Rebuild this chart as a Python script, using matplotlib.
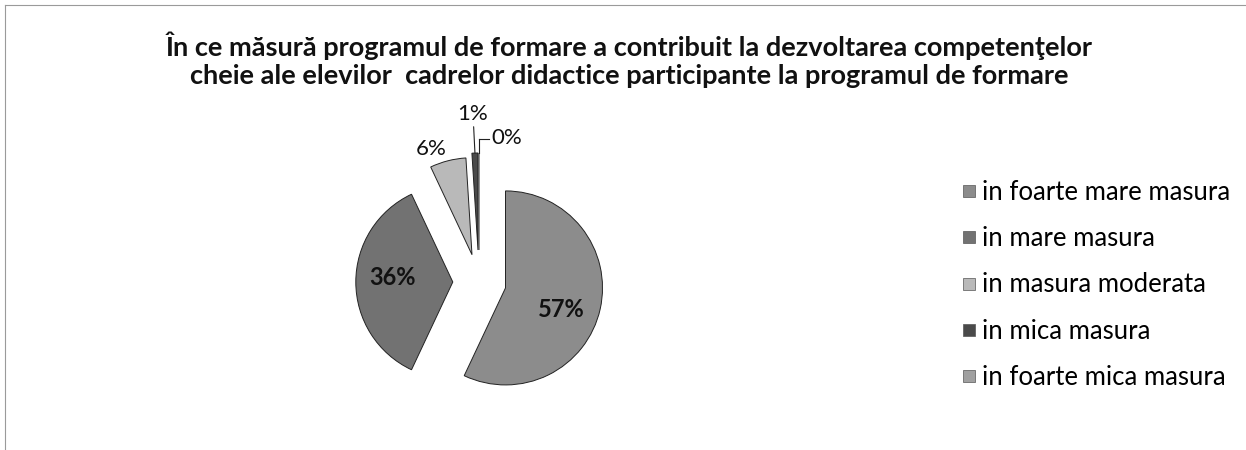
import math

import matplotlib

matplotlib.use("Agg")
import matplotlib.pyplot as plt
from matplotlib.lines import Line2D

TITLE = (
    "În ce măsură programul de formare a contribuit la dezvoltarea competenţelor\n"
    "cheie ale elevilor  cadrelor didactice participante la programul de formare"
)
CATEGORIES = [
    "in foarte mare masura",
    "in mare masura",
    "in masura moderata",
    "in mica masura",
    "in foarte mica masura",
]
VALUES = [57, 36, 6, 1, 0]

COLORS = ["#8c8c8c", "#727272", "#b9b9b9", "#4a4a4a", "#a0a0a0"]
EXPLODE = [0.28, 0.27, 0.29, 0.33, 0.33]

W, H = 1246, 450
fig = plt.figure(figsize=(W / 100, H / 100), dpi=100)

# pie axes: 1 data unit = 97 px, centre at (479, 282) px
R = 97
cx, cy = 479, 282
left, right = cx - 2 * R, cx + 2 * R
top, bottom = 88, 450
ax = fig.add_axes([left / W, (H - bottom) / H, (right - left) / W, (bottom - top) / H])

wedges, _ = ax.pie(
    VALUES,
    explode=EXPLODE,
    startangle=90,
    counterclock=False,
    colors=COLORS,
    wedgeprops=dict(edgecolor="#222222", linewidth=0.7),
)
ax.set_xlim(-2, 2)
ax.set_ylim(-(bottom - cy) / R, (cy - top) / R)
ax.axis("off")

font = "Lato"
for i, (w, v) in enumerate(zip(wedges, VALUES)):
    th = math.radians((w.theta1 + w.theta2) / 2)
    x0, y0 = w.center
    if i < 2:
        d = 0.62
        a = th - 0.15 if i == 0 else th - 0.08
        ax.text(x0 + d * math.cos(a), y0 + d * math.sin(a), f"{v}%", ha="center",
                va="center", fontsize=17, fontweight="bold", color="#111111", family=font)
    elif i == 2:
        d = 1.17
        ax.text(x0 + d * math.cos(th + 0.12), y0 + d * math.sin(th + 0.12), f"{v}%",
                ha="center", va="center", fontsize=16, color="#111111", family=font)
    elif i == 3:
        tip = (x0 + math.cos(th), y0 + math.sin(th))
        ax.annotate(f"{v}%", xy=tip, xytext=(tip[0] - 0.02, tip[1] + 0.3), ha="center",
                    va="bottom", fontsize=16, color="#111111", family=font,
                    arrowprops=dict(arrowstyle="-", color="#222222", lw=0.8, shrinkA=0, shrinkB=0))
    else:
        tip = (x0 + math.cos(th), y0 + math.sin(th))
        ax.plot([tip[0], tip[0]], [tip[1], tip[1] + 0.14], color="#222222", lw=0.8)
        ax.plot([tip[0], tip[0] + 0.1], [tip[1] + 0.14, tip[1] + 0.14], color="#222222", lw=0.8)
        ax.text(tip[0] + 0.13, tip[1] + 0.15, f"{v}%", ha="left", va="center",
                fontsize=16, color="#111111", family=font)

fig.text(0.505, 1 - 60 / H, TITLE, ha="center", va="center", fontsize=19.5, fontweight="bold",
         family=font, linespacing=1.2, color="#111111")

handles = [
    Line2D([], [], marker="s", linestyle="none", markersize=8, markerfacecolor=c,
           markeredgecolor="#555555", markeredgewidth=0.5)
    for c in COLORS
]
fig.legend(handles, CATEGORIES, loc="center left", bbox_to_anchor=(947 / W, (H - 285) / H),
           frameon=False, prop=dict(family=font, size=18.5), handletextpad=0.05,
           handlelength=0.9, labelspacing=0.83, borderaxespad=0)

# faint frame edges of the scanned chart
fig.add_artist(Line2D([5 / W, 1], [1 - 5 / H, 1 - 5 / H], color="#9a9a9a", lw=0.8))
fig.add_artist(Line2D([5 / W, 5 / W], [0, 1 - 5 / H], color="#9a9a9a", lw=0.8))

fig.savefig("out.png", dpi=100)
